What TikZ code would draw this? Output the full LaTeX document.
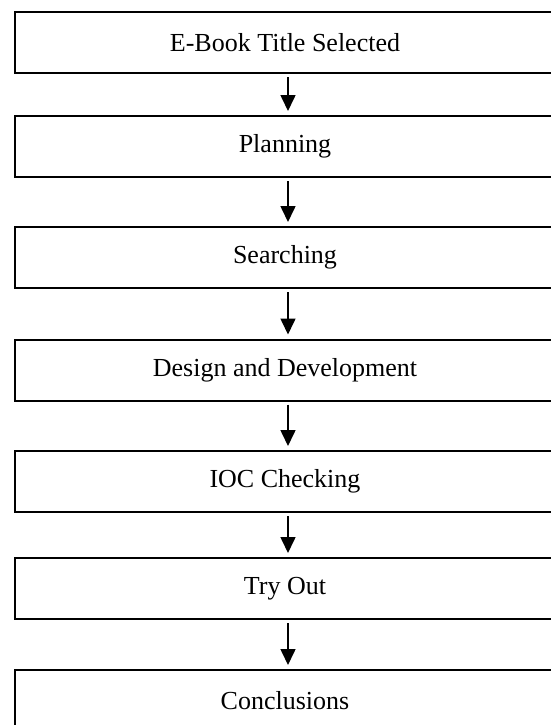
\documentclass[tikz,border=0pt]{standalone}
\usepackage{fontspec}
\setmainfont{Liberation Serif}
\usetikzlibrary{arrows.meta}
\begin{document}
\begin{tikzpicture}[x=1pt,y=-1pt,
  stepbox/.style={draw=black, line width=2pt, rectangle, outer sep=0pt, inner sep=0pt,
    minimum width=540pt, minimum height=61pt, font=\fontsize{26}{30}\selectfont},
  arr/.style={line width=1.6pt, -{Triangle[width=15pt,length=16pt]}, shorten <=4pt, shorten >=5pt}]
\useasboundingbox (0,0) rectangle (551,725);
\clip (0,0) rectangle (551,725);
\fill[white] (0,0) rectangle (551,725);
\node[stepbox] (b1) at (285,42.5) {E-Book Title Selected};
\node[stepbox] (b2) at (285,146.5) {Planning};
\node[stepbox] (b3) at (285,257.5) {Searching};
\node[stepbox] (b4) at (285,370) {Design and Development};
\node[stepbox] (b5) at (285,481.5) {IOC Checking};
\node[stepbox] (b6) at (285,588.5) {Try Out};
\node[stepbox] (b7) at (285,700.5) {Conclusions};
\draw[arr] ([xshift=3pt]b1.south) -- ([xshift=3pt]b2.north);
\draw[arr] ([xshift=3pt]b2.south) -- ([xshift=3pt]b3.north);
\draw[arr] ([xshift=3pt]b3.south) -- ([xshift=3pt]b4.north);
\draw[arr] ([xshift=3pt]b4.south) -- ([xshift=3pt]b5.north);
\draw[arr] ([xshift=3pt]b5.south) -- ([xshift=3pt]b6.north);
\draw[arr] ([xshift=3pt]b6.south) -- ([xshift=3pt]b7.north);
\end{tikzpicture}
\end{document}
